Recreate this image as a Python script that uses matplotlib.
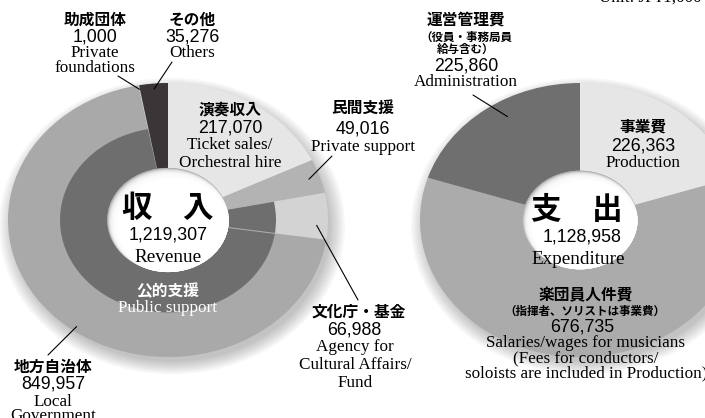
import matplotlib
matplotlib.use('Agg')
import matplotlib.pyplot as plt
from matplotlib.patches import Circle
import numpy as np

plt.rcParams['font.family'] = ['Noto Sans CJK JP', 'DejaVu Sans']

W, H, DPI = 705, 418, 100

# ---------------- data ----------------
rev_names_ja = ['演奏収入', '民間支援', '文化庁・基金', '地方自治体', '助成団体', 'その他']
rev_names_en = ['Ticket sales/\nOrchestral hire', 'Private support',
                'Agency for\nCultural Affairs/\nFund', 'Local\nGovernment',
                'Private\nfoundations', 'Others']
rev_values = [217070, 49016, 66988, 849957, 1000, 35276]
rev_public = [False, False, True, True, False, False]   # 公的支援 (Public support)

exp_names_ja = ['事業費', '楽団員人件費', '運営管理費']
exp_notes_ja = ['', '（指揮者、ソリストは事業費）', '（役員・事務局員\n給与含む）']
exp_names_en = ['Production',
                'Salaries/wages for musicians\n(Fees for conductors/\nsoloists are included in Production)',
                'Administration']
exp_values = [226363, 676735, 225860]

# ---------------- style ----------------
rev_colors = ['#e6e6e6', '#b3b3b3', '#d3d3d3', '#a9a9a9', '#d0d0d0', '#3a3536']
public_color = '#6e6e6e'
exp_colors = ['#e6e6e6', '#ababab', '#6f6f6f']

JA = dict(family=['Noto Sans CJK JP', 'DejaVu Sans'], weight='bold', size=11.3)
JAS = dict(family=['Noto Sans CJK JP', 'DejaVu Sans'], weight='bold', size=8.3)
NUM = dict(family=['Liberation Sans', 'DejaVu Sans'], size=12.8)
EN = dict(family=['Liberation Serif', 'DejaVu Serif'], size=12.3)
ENB = dict(family=['Liberation Serif', 'DejaVu Serif'], size=13.8)
BIG = dict(family=['Noto Sans CJK JP', 'DejaVu Sans'], weight='bold', size=22)

RX, RY = 160, 137   # pixel radii of rings
PAD = 1.35

fig = plt.figure(figsize=(W / DPI, H / DPI), dpi=DPI)
fig.patch.set_facecolor('white')


def make_ax(cx, cy):
    ax = fig.add_axes([(cx - PAD * RX) / W, (H - cy - PAD * RY) / H,
                       2 * PAD * RX / W, 2 * PAD * RY / H])
    ax.set_axis_off()
    return ax


def finish(ax):
    ax.set_aspect('auto')
    ax.set_xlim(-PAD, PAD)
    ax.set_ylim(-PAD, PAD)


def shadow(ax):
    for i in range(8):
        ax.add_patch(Circle((0.025, -0.045), 0.99 + 0.013 * i, fc='black',
                            alpha=0.03, lw=0, zorder=0))


def hole(ax, r):
    base = Circle((0, 0), r, fc='#a9a9a9', lw=0, zorder=4)
    ax.add_patch(base)
    n = 14
    for k in range(1, n + 1):
        tt = k / n
        c = Circle((0.03 * tt, -0.04 * tt), r * (1 - 0.06 * tt), fc='white',
                   alpha=0.28, lw=0, zorder=4)
        ax.add_patch(c)
        c.set_clip_path(base)
    c = Circle((0.03, -0.04), r * 0.92, fc='white', lw=0, zorder=4)
    ax.add_patch(c)
    c.set_clip_path(base)


def angle_at(values, idx, frac):
    tot = sum(values)
    cum = sum(values[:idx]) + frac * values[idx]
    return np.deg2rad(90 - 360 * cum / tot)


def t(px, py, s, **kw):
    fig.text(px / W, 1 - py / H, s, ha='center', va='center', linespacing=0.95, **kw)


def lines(px, py0, step, s, **kw):
    for i, ln in enumerate(s.split('\n')):
        t(px, py0 + i * step, ln, **kw)


def leader(ax, values, idx, frac, r, px, py):
    a = angle_at(values, idx, frac)
    ax.annotate('', xy=(r * np.cos(a), r * np.sin(a)), xycoords='data',
                xytext=(px, H - py), textcoords='figure pixels',
                arrowprops=dict(arrowstyle='-', color='black', lw=0.8,
                                shrinkA=0, shrinkB=0), zorder=6)


# ---------------- Revenue ----------------
ax1 = make_ax(168, 220)
shadow(ax1)
HOLE1, MID = 0.38, 0.675
ax1.pie(rev_values, colors=rev_colors, startangle=90, counterclock=False,
        radius=1.0, wedgeprops=dict(width=1.0 - HOLE1, linewidth=0), normalize=True)
inner_cols = [public_color if p else (0, 0, 0, 0) for p in rev_public]
ax1.pie(rev_values, colors=inner_cols, startangle=90, counterclock=False,
        radius=MID, wedgeprops=dict(width=MID - HOLE1, linewidth=0), normalize=True)
a = angle_at(rev_values, 3, 0.0)
ax1.plot([HOLE1 * np.cos(a), MID * np.cos(a)], [HOLE1 * np.sin(a), MID * np.sin(a)],
         color='#a8a8a8', lw=0.8, zorder=3)
hole(ax1, HOLE1)
finish(ax1)

leader(ax1, rev_values, 4, 0.5, 0.97, 118, 76)
leader(ax1, rev_values, 5, 0.5, 0.96, 172, 62)
leader(ax1, rev_values, 1, 0.5, 0.93, 332, 156)
leader(ax1, rev_values, 2, 0.7, 0.93, 358, 300)
leader(ax1, rev_values, 3, 0.47, 0.965, 48, 355)

rev_total = sum(rev_values)
t(168, 208, '収　入', **BIG)
t(168, 235, f'{rev_total:,}', **NUM)
t(168, 257, 'Revenue', **ENB)
t(168, 291, '公的支援', color='white', **JA)
t(168, 308, 'Public support', color='white', **EN)

# 演奏収入
t(230, 110, rev_names_ja[0], **JA)
t(230, 128, f'{rev_values[0]:,}', **NUM)
lines(230, 145, 18, rev_names_en[0], **EN)
# 民間支援
t(363, 108, rev_names_ja[1], **JA)
t(363, 129, f'{rev_values[1]:,}', **NUM)
lines(363, 147, 18, rev_names_en[1], **EN)
# 文化庁・基金
t(359, 312, rev_names_ja[2], **JA)
t(354, 330, f'{rev_values[2]:,}', **NUM)
lines(355, 347, 18, rev_names_en[2], **EN)
# 地方自治体
t(53, 367, rev_names_ja[3], **JA)
t(53, 384, f'{rev_values[3]:,}', **NUM)
lines(53, 402, 14, rev_names_en[3], **EN)
# 助成団体
t(95, 20, rev_names_ja[4], **JA)
t(95, 37, f'{rev_values[4]:,}', **NUM)
lines(95, 53, 15, rev_names_en[4], **EN)
# その他
t(192, 20, rev_names_ja[5], **JA)
t(192, 37, f'{rev_values[5]:,}', **NUM)
lines(192, 53, 15, rev_names_en[5], **EN)

# ---------------- Expenditure ----------------
ax2 = make_ax(580, 220)
shadow(ax2)
HOLE2 = 0.36
ax2.pie(exp_values, colors=exp_colors, startangle=90, counterclock=False,
        radius=1.0, wedgeprops=dict(width=1.0 - HOLE2, linewidth=0), normalize=True)
hole(ax2, HOLE2)
finish(ax2)

leader(ax2, exp_values, 2, 0.57, 0.88, 473, 95)

exp_total = sum(exp_values)
t(577, 210, '支　出', **BIG)
t(582, 237, f'{exp_total:,}', **NUM)
t(578, 259, 'Expenditure', **ENB)

# 事業費
t(643, 127, exp_names_ja[0], **JA)
t(643, 146, f'{exp_values[0]:,}', **NUM)
t(643, 163, exp_names_en[0], **EN)
# 楽団員人件費
t(586, 295, exp_names_ja[1], **JA)
t(585, 311, exp_notes_ja[1], **JAS)
t(582, 327, f'{exp_values[1]:,}', **NUM)
lines(586, 343, 15, exp_names_en[1], **EN)
# 運営管理費
t(466, 20, exp_names_ja[2], **JA)
lines(466, 37, 12.5, exp_notes_ja[2], **JAS)
t(466, 66, f'{exp_values[2]:,}', **NUM)
t(466, 82, exp_names_en[2], **EN)

# unit note (partly cut off at top edge)
fig.text(702 / W, 1 + 2 / H, 'Unit: JP¥1,000', ha='right', va='center', **EN)

fig.savefig('out.png', dpi=DPI, facecolor='white')
